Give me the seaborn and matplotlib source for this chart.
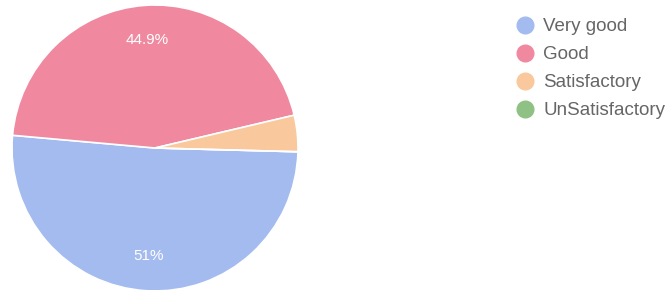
import matplotlib
matplotlib.use("Agg")
import matplotlib.pyplot as plt
from matplotlib.lines import Line2D
import seaborn as sns

categories = ["Very good", "Good", "Satisfactory", "UnSatisfactory"]
shares = [51.0, 44.9, 4.1, 0.0]
colors = ["#a3bbef", "#f0899f", "#f9c99d", "#90c184"]

sns.set_theme(style="white")
plt.rcParams["font.family"] = ["Liberation Sans", "DejaVu Sans"]

W, H = 669, 290
fig = plt.figure(figsize=(W / 100, H / 100), dpi=100)

# pie centre (155, 148) px, radius 143 px
cx, cy, r = 155, 148, 143
pad = 1.02
ax = fig.add_axes([(cx - r * pad) / W, (H - cy - r * pad) / H,
                   2 * r * pad / W, 2 * r * pad / H])


def fmt(p):
    if p < 10:
        return ""
    return f"{p:g}%" if round(p, 1) != round(p) else f"{round(p):d}%"


wedges, texts, autotexts = ax.pie(
    shares, colors=colors, startangle=-1.5, counterclock=False,
    autopct=fmt, pctdistance=0.76,
    wedgeprops=dict(edgecolor="white", linewidth=1.2),
    textprops=dict(color="white", fontsize=11),
)
ax.set_xlim(-pad, pad)
ax.set_ylim(-pad, pad)
ax.set_aspect("equal")

handles = [Line2D([0], [0], marker="o", linestyle="none", markersize=12,
                  markerfacecolor=c, markeredgecolor=c) for c in colors]
leg = fig.legend(handles, categories, loc="upper left",
                 bbox_to_anchor=(516 / W, 1 - 18 / H), frameon=False,
                 fontsize=13.5, labelspacing=0.58, handlelength=1.0,
                 handletextpad=0.45, borderaxespad=0, borderpad=0)
for t in leg.get_texts():
    t.set_color("#666666")

fig.savefig("out.png", dpi=100)
